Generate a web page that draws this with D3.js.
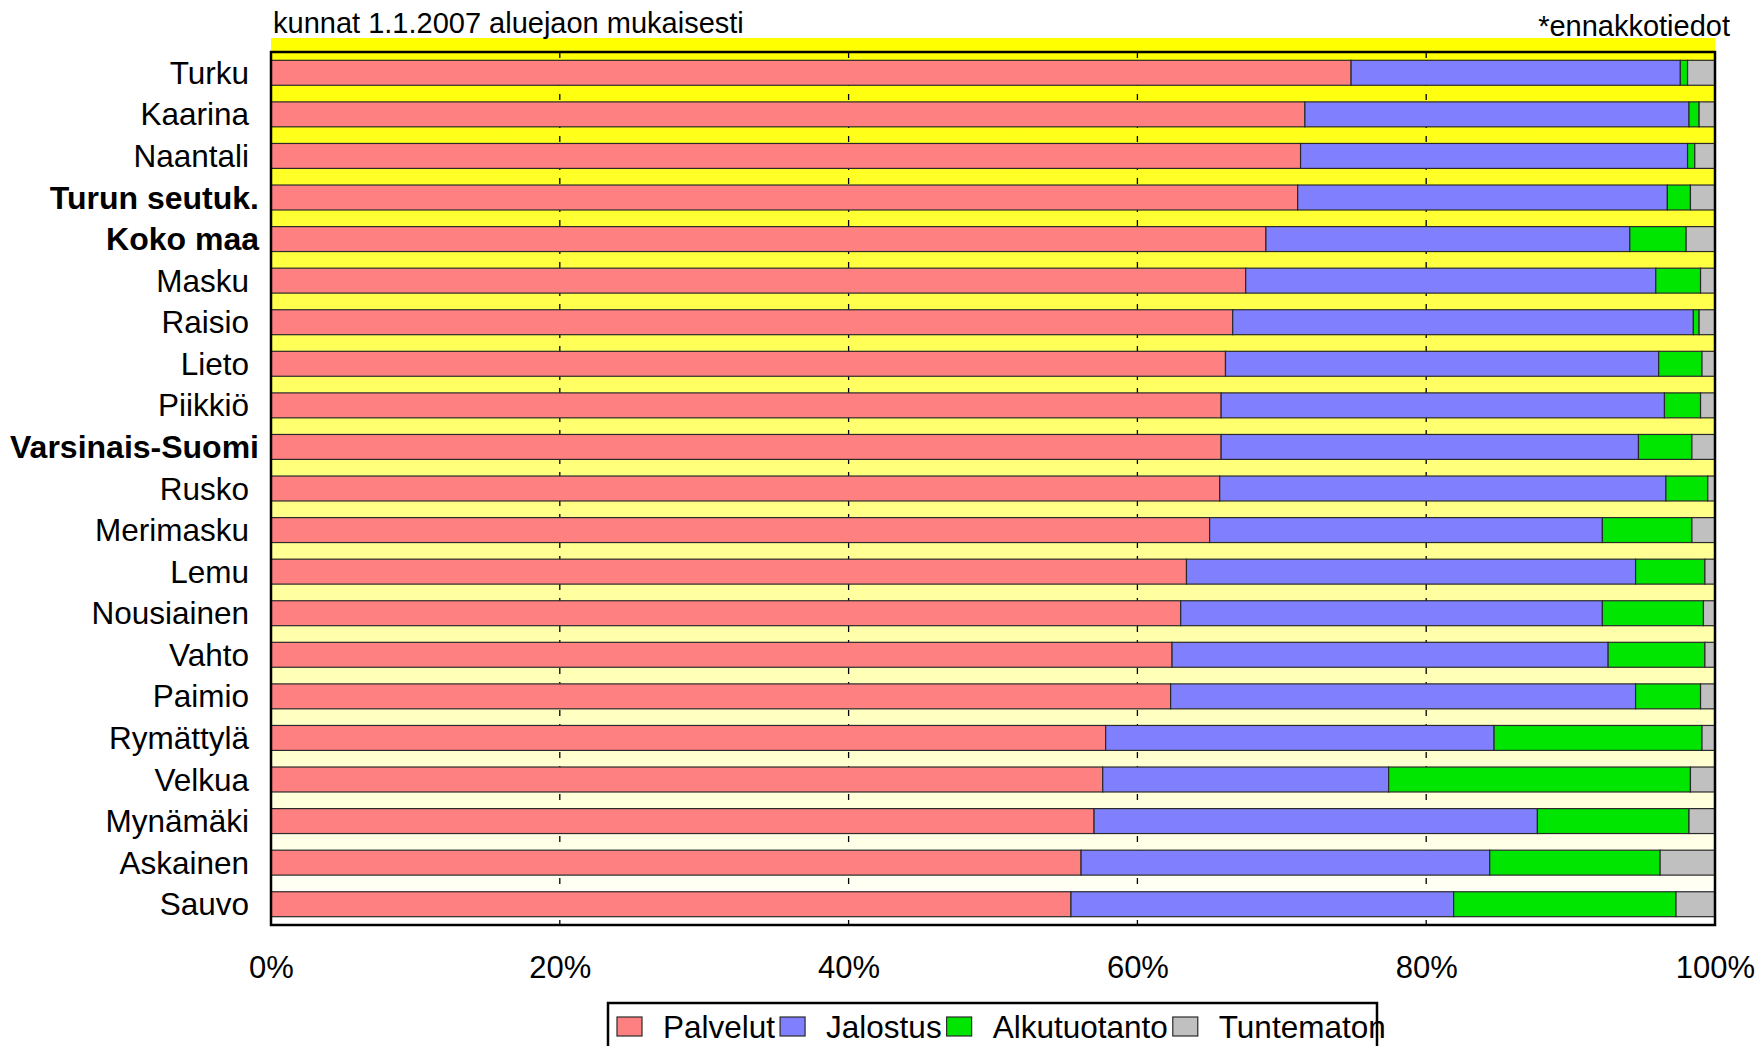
<!DOCTYPE html>
<html>
<head>
<meta charset="utf-8">
<script src="https://cdn.jsdelivr.net/npm/d3@7"></script>
<style>
  body { margin: 0; background: #fff; }
  svg text { font-family: "Liberation Sans", Arial, sans-serif; fill: #000; }
</style>
</head>
<body>
<svg id="chart" width="1762" height="1046"></svg>
<script>
// data (percent shares)
var categories = ["Turku", "Kaarina", "Naantali", "Turun seutuk.", "Koko maa", "Masku",
  "Raisio", "Lieto", "Piikkiö", "Varsinais-Suomi", "Rusko", "Merimasku", "Lemu",
  "Nousiainen", "Vahto", "Paimio", "Rymättylä", "Velkua", "Mynämäki", "Askainen", "Sauvo"];
var boldCategories = ["Turun seutuk.", "Koko maa", "Varsinais-Suomi"];
var seriesNames = ["Palvelut", "Jalostus", "Alkutuotanto", "Tuntematon"];
var palvelut     = [74.8, 71.6, 71.3, 71.1, 68.9, 67.5, 66.6, 66.1, 65.8, 65.8, 65.7, 65.0, 63.4, 63.0, 62.4, 62.3, 57.8, 57.6, 57.0, 56.1, 55.4];
var jalostus     = [22.8, 26.6, 26.8, 25.6, 25.2, 28.4, 31.9, 30.0, 30.7, 28.9, 30.9, 27.2, 31.1, 29.2, 30.2, 32.2, 26.9, 19.8, 30.7, 28.3, 26.5];
var alkutuotanto = [0.5, 0.7, 0.5, 1.6, 3.9, 3.1, 0.4, 3.0, 2.5, 3.7, 2.9, 6.2, 4.8, 7.0, 6.7, 4.5, 14.4, 20.9, 10.5, 11.8, 15.4];
var tuntematon   = [1.9, 1.1, 1.4, 1.7, 2.0, 1.0, 1.1, 0.9, 1.0, 1.6, 0.5, 1.6, 0.7, 0.8, 0.7, 1.0, 0.9, 1.7, 1.8, 3.8, 2.7];
var xTicks = [0, 0.2, 0.4, 0.6, 0.8, 1];
var titleText = "kunnat 1.1.2007 aluejaon mukaisesti";
var noteText = "*ennakkotiedot";

var colors = ["#ff8080", "#8080ff", "#00e600", "#c0c0c0"];

var svg = d3.select("#chart");
var plotLeft = 271, plotRight = 1715, plotTop = 52, plotBottom = 925;

var rows = categories.map(function(c, i) {
  return { name: c, Palvelut: palvelut[i], Jalostus: jalostus[i],
           Alkutuotanto: alkutuotanto[i], Tuntematon: tuntematon[i] };
});
var stacked = d3.stack().keys(seriesNames).offset(d3.stackOffsetExpand)(rows);

var x = d3.scaleLinear().domain([0, 1]).range([plotLeft, plotRight]);
var y = d3.scaleBand().domain(categories).range([plotTop, plotBottom])
  .paddingInner(0.4).paddingOuter(0.2);
var color = d3.scaleOrdinal().domain(seriesNames).range(colors);

function isBold(d) { return boldCategories.indexOf(d) >= 0; }

// background: yellow fading to white
var grad = svg.append("defs").append("linearGradient")
  .attr("id", "bg").attr("gradientUnits", "userSpaceOnUse")
  .attr("x1", 0).attr("x2", 0).attr("y1", 38).attr("y2", plotBottom);
grad.append("stop").attr("offset", "0%").attr("stop-color", "#ffff00");
grad.append("stop").attr("offset", "100%").attr("stop-color", "#ffffff");

svg.append("rect")
  .attr("x", plotLeft).attr("y", 38)
  .attr("width", plotRight - plotLeft).attr("height", plotBottom - 38)
  .attr("fill", "url(#bg)");

// dashed grid
svg.append("g").selectAll("line")
  .data(xTicks.filter(function(t) { return t > 0 && t < 1; }))
  .join("line")
  .attr("x1", function(d) { return x(d); }).attr("x2", function(d) { return x(d); })
  .attr("y1", plotTop).attr("y2", plotBottom)
  .attr("stroke", "#000").attr("stroke-width", 1.3)
  .attr("stroke-dasharray", "6,8");

// bars
svg.append("g").selectAll("g")
  .data(stacked)
  .join("g")
  .attr("fill", function(d) { return color(d.key); })
  .selectAll("rect")
  .data(function(d) { return d; })
  .join("rect")
  .attr("x", function(d) { return x(d[0]); })
  .attr("y", function(d) { return y(d.data.name); })
  .attr("width", function(d) { return x(d[1]) - x(d[0]); })
  .attr("height", y.bandwidth())
  .attr("stroke", "#2a2a2a").attr("stroke-width", 1.2);

// frame
svg.append("rect")
  .attr("x", plotLeft).attr("y", plotTop)
  .attr("width", plotRight - plotLeft).attr("height", plotBottom - plotTop)
  .attr("fill", "none").attr("stroke", "#000").attr("stroke-width", 2.5);

// category labels
svg.append("g").selectAll("text")
  .data(categories)
  .join("text")
  .attr("x", function(d) { return isBold(d) ? 259 : 249; })
  .attr("y", function(d) { return y(d) + y.bandwidth() / 2; })
  .attr("dy", "0.35em")
  .attr("text-anchor", "end")
  .style("font-size", function(d) { return isBold(d) ? "32px" : "31.5px"; })
  .style("font-weight", function(d) { return isBold(d) ? "bold" : "normal"; })
  .text(function(d) { return d; });

// x axis labels
var xAxis = svg.append("g")
  .attr("transform", "translate(0," + plotBottom + ")")
  .call(d3.axisBottom(x).tickValues(xTicks).tickFormat(d3.format(".0%"))
    .tickSize(0).tickPadding(31));
xAxis.select(".domain").remove();
xAxis.selectAll("text")
  .style("font-size", "31px")
  .style("font-family", "'Liberation Sans', Arial, sans-serif")
  .attr("fill", "#000");

// titles
svg.append("text").attr("x", 273).attr("y", 33)
  .style("font-size", "29px").text(titleText);
svg.append("text").attr("x", 1730).attr("y", 36)
  .attr("text-anchor", "end")
  .style("font-size", "29px").text(noteText);

// legend
var legend = svg.append("g");
legend.append("rect")
  .attr("x", 608).attr("y", 1003)
  .attr("width", 769).attr("height", 60)
  .attr("fill", "#fff").attr("stroke", "#000").attr("stroke-width", 2.5);

var lx = 617;
seriesNames.forEach(function(name) {
  legend.append("rect")
    .attr("x", lx).attr("y", 1017)
    .attr("width", 25).attr("height", 19)
    .attr("fill", color(name)).attr("stroke", "#2a2a2a").attr("stroke-width", 1.2);
  var t = legend.append("text")
    .attr("x", lx + 46).attr("y", 1038)
    .style("font-size", "31.5px")
    .text(name);
  lx = lx + 46 + t.node().getComputedTextLength() + 5;
});
</script>
</body>
</html>
